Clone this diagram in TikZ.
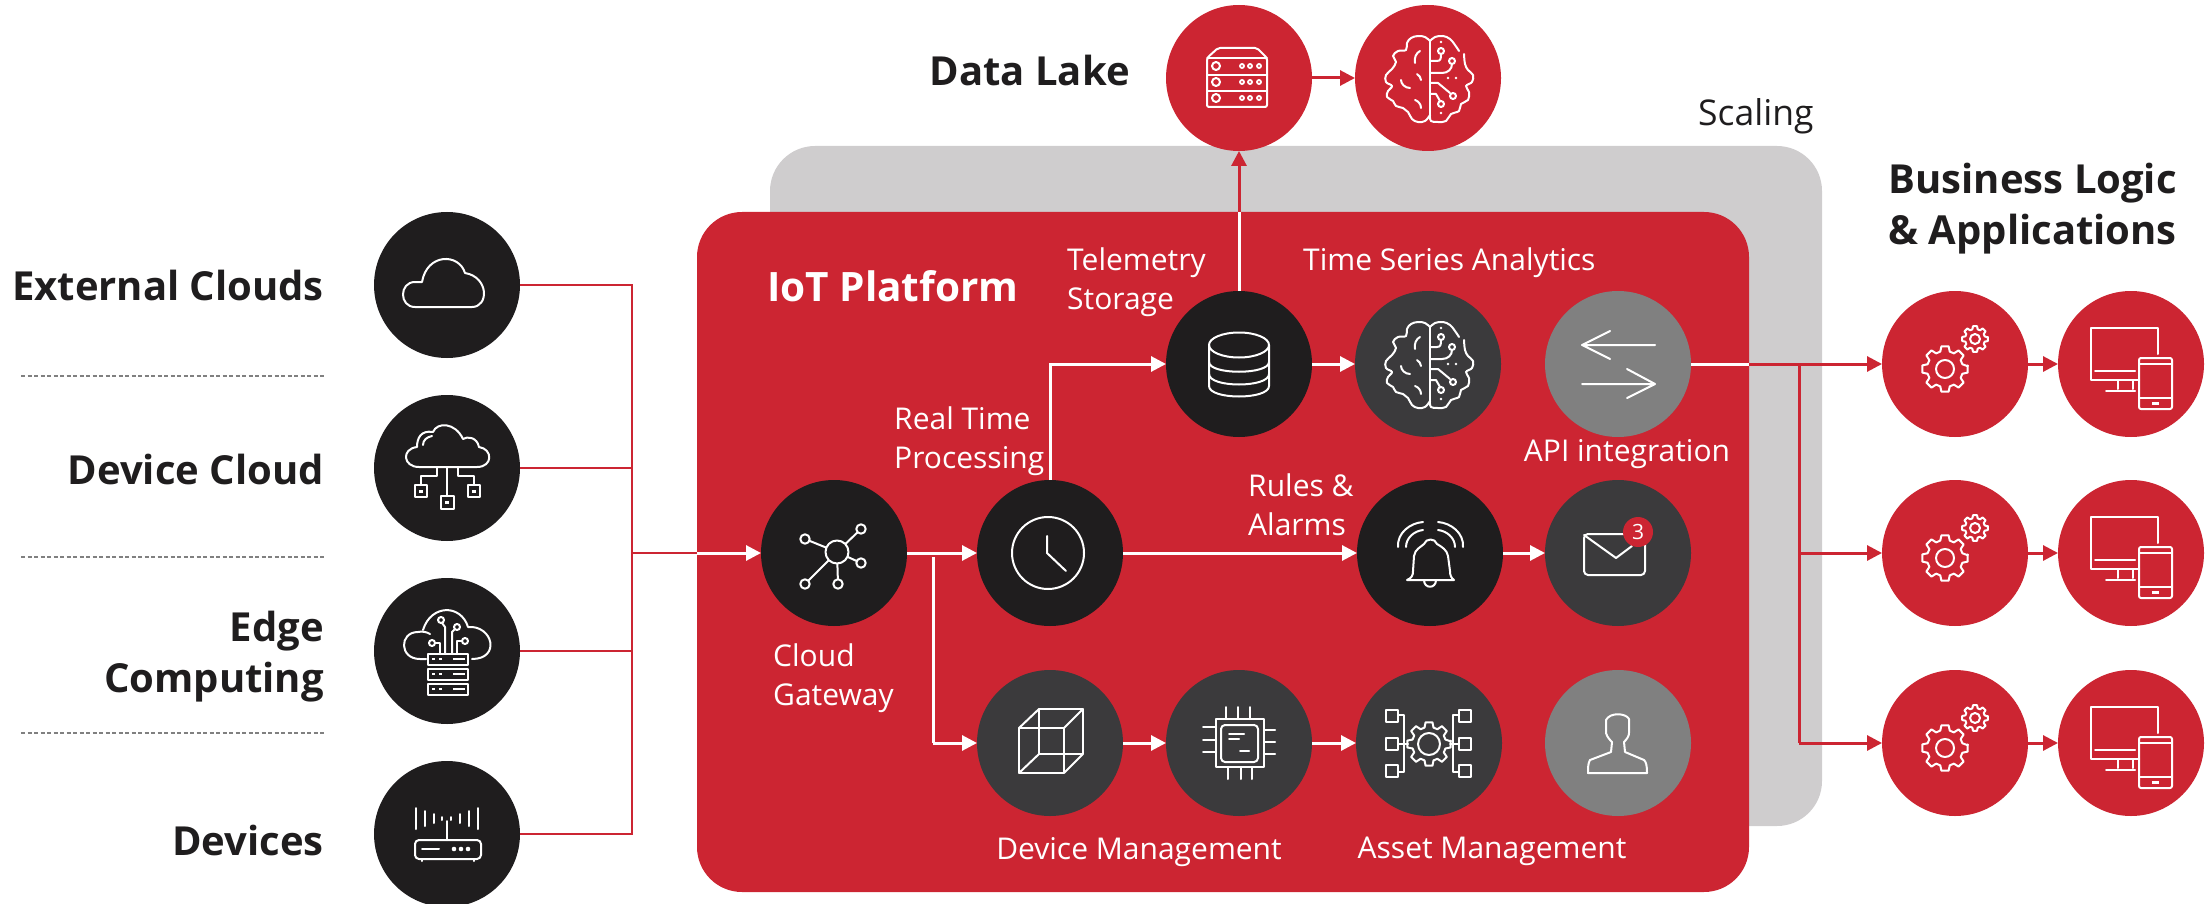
\documentclass[tikz,border=0pt]{standalone}
\usepackage{fontspec}
\setmainfont{Open Sans}
\usetikzlibrary{arrows.meta}
\definecolor{brand}{RGB}{204,37,50}
\definecolor{ink}{RGB}{31,29,30}
\definecolor{slate}{RGB}{59,58,60}
\definecolor{midgrey}{RGB}{128,128,128}
\definecolor{pale}{RGB}{207,205,206}
\newcommand{\gearic}[6]{% x y R r hole teethcount-step
  \begin{scope}[shift={(#1,#2)}]
  \draw[ic] (#6/2*-0.3:#3)
    \foreach \a in {0,#6,...,359}{ -- ({\a-#6*0.2}:#3) -- ({\a+#6*0.2}:#3) -- ({\a+#6*0.34}:#4) -- ({\a+#6*0.66}:#4)} -- cycle;
  \draw[ic] (0,0) circle[radius=#5];
  \end{scope}}
\newcommand{\cloudinbox}[3]{\draw[ic] (#1-#3,#2-#3) rectangle (#1+#3,#2+#3); \fill[white] (#1-2,#2-1.5) rectangle (#1+2,#2+1.5);}
\tikzset{
  ic/.style={draw=white,line width=2pt,line join=round,line cap=round},
  disc/.style={circle,minimum size=146pt,inner sep=0pt,outer sep=0pt},
  blackdisc/.style={disc,fill=ink},
  slatedisc/.style={disc,fill=slate},
  greydisc/.style={disc,fill=midgrey},
  reddisc/.style={disc,fill=brand},
  feed/.style={draw=brand,line width=1.6pt},
  wline/.style={draw=white,line width=3pt},
  rline/.style={draw=brand,line width=3pt},
  warrow/.style={wline,-{Triangle[length=15pt,width=15pt]}},
  rarrow/.style={rline,-{Triangle[length=15pt,width=15pt]}},
  sidelabel/.style={font=\fontsize{40}{51}\selectfont\bfseries,text=ink,inner sep=0pt,align=right,anchor=east},
  title/.style={font=\fontsize{40.5}{51}\selectfont\bfseries,inner sep=0pt},
  inlabel/.style={font=\fontsize{30}{39}\selectfont,text=white,inner sep=0pt,align=left},
  extcloud/.pic={
    \draw[ic] (-32,22) -- (25,22) .. controls (42,22) and (42,-8) .. (18,-12) .. controls (12,-32) and (-20,-32) .. (-25,-3) -- (-32,-3) .. controls (-48,-3) and (-48,22) .. (-32,22) -- cycle;
  },
  devcloud/.pic={
    \draw[ic] (-28,-1) -- (30,-1) .. controls (46,-1) and (46,-19) .. (32,-21) .. controls (30,-31) and (20,-32) .. (16,-29) .. controls (8,-46) and (-10,-46) .. (-14,-36) .. controls (-26,-38) and (-30,-30) .. (-30,-21) .. controls (-46,-19) and (-44,-1) .. (-28,-1) -- cycle;
    \draw[ic] (-24,-23) .. controls (-24,-28) and (-20,-31) .. (-15,-32);
    \draw[ic] (0,-1) -- (0,28);
    \draw[ic] (-10,-1) -- (-10,8) -- (-26,8) -- (-26,17);
    \draw[ic] (11,-1) -- (11,8) -- (27,8) -- (27,17);
    \cloudinbox{0}{34}{6.5}\cloudinbox{-26}{23}{6}\cloudinbox{27}{23}{6}
  },
  edgecloud/.pic={
    \draw[ic] (-21,8) -- (-27,8) .. controls (-48,8) and (-48,-19) .. (-29,-19) .. controls (-25,-20) and (-20,-19) .. (-17,-17);
    \draw[ic] (-24,-21) .. controls (-16,-47) and (14,-47) .. (21,-24) .. controls (46,-26) and (54,8) .. (25,8);
    \foreach \y in {3,18,33}{
      \draw[ic] (-19,\y) rectangle (21,\y+11);
      \draw[white,line width=2pt] (-15,\y+5) -- (-12,\y+5) (-8,\y+5) -- (-5,\y+5) (6,\y+5) -- (18,\y+5);
    }
    \draw[ic] (-2,3) -- (-2,-24) -- (-5,-28);
    \draw[ic] (-6,-31) circle[radius=3];
    \draw[ic] (5,3) -- (5,-19) -- (8,-22);
    \draw[ic] (10,-24) circle[radius=3];
    \draw[ic] (10,3) -- (10,-10) -- (15,-10);
    \draw[ic] (18,-10) circle[radius=3];
    \draw[ic] (-7,3) -- (-7,-8) -- (-12,-8);
    \draw[ic] (-15,-8) circle[radius=3];
  },
  routeric/.pic={
    \foreach \x/\h in {-31/0,-22/3,-13/6,-5/9,4/9,13/6,22/3,31/0}{
      \draw[ic] (\x,-26+\h) -- (\x,-5-\h);
    }
    \draw[ic] (0,-13) -- (0,6);
    \draw[ic,rounded corners=4pt] (-32,6) rectangle (34,25);
    \draw[ic] (-25,15) -- (-8,15);
    \foreach \x in {7,14,21}{\fill[white] (\x,15) circle[radius=2.3];}
    \draw[ic] (-25,25) -- (-25,27) (27,25) -- (27,27);
  },
  serveric/.pic={
    \draw[ic,rounded corners=2pt] (-32,-20) -- (-21,-30) -- (18,-30) -- (28,-20) -- (28,29) -- (-32,29) -- cycle;
    \draw[ic] (-32,-20) -- (28,-20) (-32,-3) -- (28,-3) (-32,13) -- (28,13);
    \foreach \y in {-12,4,20}{
      \draw[ic] (-23,\y) circle[radius=4];
      \foreach \x in {3,11,20}{\draw[white,line width=1.8pt] (\x,\y) circle[radius=2];}
    }
  },
  brainic/.pic={
    \draw[ic] plot[smooth,tension=.65] coordinates {(2,-37) (-3,-41) (-10,-42) (-17,-40) (-21,-35) (-22,-28) (-30,-27) (-35,-22) (-32,-16) (-36,-9) (-42,-3) (-42,4) (-36,8) (-40,13) (-41,19) (-35,23) (-32,28) (-25,30) (-20,34) (-16,41) (-10,44) (-3,43) (2,37)};
    \draw[ic] plot[smooth,tension=.65] coordinates {(2,-37) (7,-41) (15,-42) (22,-39) (27,-33)  (31,-27) };
    \draw[ic] plot[smooth,tension=.65] coordinates {(36,-24) (37,-14) (40,-8) (45,-3) (44,4) (38,8) (41,14) (40,22) (33,26) (31,33) (23,36) (18,43) (10,44) (3,43) (2,37)};
    \draw[ic] (2,-37) -- (2,37);
    \draw[ic] (2,-17) -- (9,-17) .. controls (13,-17) and (13,-20) .. (13,-24);
    \draw[ic] (13,-27) circle[radius=3];
    \draw[ic] (2,-5) -- (14,-5) .. controls (20,-5) and (24,-9) .. (24,-14);
    \draw[ic] (24,-17) circle[radius=3];
    \draw[ic] (2,5) -- (10,5) -- (22,15);
    \draw[ic] (25,18) circle[radius=3];
    \draw[ic] (2,16) -- (8,16) -- (12,23);
    \draw[ic] (13,26) circle[radius=3];
    \foreach \p in {(20,0),(28,0),(13,-36),(13,35)}{\fill[white] \p circle[radius=1.3];}
    \draw[ic] (-8,-27) .. controls (-12,-25) and (-14,-20) .. (-13,-15);
    \draw[ic] (-11,-4) .. controls (-9,-3) and (-7,0) .. (-7,2);
    \draw[ic] (-27,2) .. controls (-27,6) and (-23,10) .. (-18,10);
    \draw[ic] (-13,22) .. controls (-10,23) and (-7,26) .. (-7,30);
  },
  dbic/.pic={
    \draw[ic] (0,-19) ellipse[x radius=30,y radius=12.5];
    \draw[ic] (-30,-19) -- (-30,22) .. controls (-30,36) and (30,36) .. (30,22) -- (30,-19);
    \draw[ic] (-30,-2) .. controls (-30,11) and (30,11) .. (30,-2);
    \draw[ic] (-30,10) .. controls (-30,24) and (30,24) .. (30,10);
  },
  gateic/.pic={
    \draw[white,line width=2pt] (3,-1) -- (-29,-14) (3,-1) -- (27,-24) (3,-1) -- (27,10) (3,-1) -- (-29,31) (3,-1) -- (4,31);
    \foreach \p/\r in {(3,-1)/11.5,(-29,-14)/4.7,(27,-24)/4.7,(27,10)/4.7,(-29,31)/4.7,(4,31)/4.7}{
      \draw[ic,fill=ink] \p circle[radius=\r];
    }
  },
  clockic/.pic={
    \draw[ic] (-2,0) circle[radius=36];
    \draw[ic] (-3,-17) -- (-3,0) -- (16,18);
  },
  cubeic/.pic={
    \draw[ic] (-31,-15) rectangle (14,30);
    \draw[ic] (-11,-34) rectangle (33,11);
    \draw[ic] (-31,-15) -- (-11,-34) (14,-15) -- (33,-34) (14,30) -- (33,11) (-31,30) -- (-11,11);
  },
  apiic/.pic={
    \draw[ic] (37,-19) -- (-36,-19) (-8,-33) -- (-36,-19) -- (-8,-5);
    \draw[ic] (-36,20) -- (37,20) (9,5) -- (37,20) -- (9,34);
  },
  gearsic/.pic={
    \gearic{-10}{5}{23}{18}{9}{45}
    \gearic{20}{-25}{13}{10}{5}{45}
  },
  screenic/.pic={
    \draw[ic] (27,-10) -- (27,-36) -- (-40,-36) -- (-40,16) -- (8,16);
    \draw[ic] (-36,7) -- (4,7);
    \draw[ic] (-13,16) -- (-13,25) (2,16) -- (2,25) (-25,27) -- (4,27);
    \draw[ic,rounded corners=2pt] (8,-6) rectangle (41,45);
    \draw[ic] (8,0) -- (41,0) (8,34) -- (41,34);
    \fill[white] (21,38) rectangle (28,40.5);
  },
  bellic/.pic={
    \draw[ic] (-23,27) -- (24,27) (-23,27) .. controls (-18,25) and (-17,22) .. (-17,18) -- (-16,3) .. controls (-15,-4) and (-9,-6) .. (-6,-9) .. controls (-4,-15) and (5,-15) .. (7,-9) .. controls (12,-6) and (17,-3) .. (18,3) -- (20,18) .. controls (20,22) and (21,25) .. (24,27);
    \draw[ic] (-6,27) .. controls (-6,36) and (6,36) .. (6,27);
    \draw[ic] (-32,-6) .. controls (-33,-20) and (-20,-30) .. (-7,-31);
    \draw[ic] (-24,-6) .. controls (-24,-15) and (-16,-22) .. (-7,-23);
    \draw[ic] (8,-31) .. controls (21,-30) and (34,-20) .. (33,-6);
    \draw[ic] (8,-23) .. controls (17,-22) and (25,-15) .. (25,-6);
  },
  chipic/.pic={
    \draw[ic] (-23,-24) rectangle (25,24);
    \draw[ic,rounded corners=4pt] (-18,-18) rectangle (19,19);
    \foreach \x in {-13,-1,11}{\draw[ic] (\x,-36) -- (\x,-24);}
    \foreach \x in {-11,2,13}{\draw[ic] (\x,24) -- (\x,36);}
    \foreach \y in {-16,-3,9}{\draw[ic] (-36,\y) -- (-23,\y);}
    \foreach \y in {-13,-1,11}{\draw[ic] (25,\y) -- (36,\y);}
    \draw[ic] (-10,-9) -- (5,-9) (-10,-4) -- (0,-4) (1,8) -- (10,8);
  },
  assetic/.pic={
    \gearic{0}{1}{22}{17}{11}{45}
    \foreach \y in {-33,-5,22}{
      \draw[ic] (-43,\y) rectangle (-31,\y+11.5);
      \draw[ic] (30,\y) rectangle (42,\y+11.5);
    }
    \draw[ic] (-31,-28) -- (-25,-28) -- (-25,29) -- (-31,29) (-31,1) -- (-21,1);
    \draw[ic] (30,-28) -- (24,-28) -- (24,29) -- (30,29) (30,1) -- (21,1);
  },
  useric/.pic={
    \draw[ic] (-30,30) -- (29,30) .. controls (29,22) and (28,19) .. (26,17) -- (7,9) -- (6,-1) .. controls (9,-4) and (11,-7) .. (11,-10) -- (11,-24) .. controls (8,-30) and (-8,-31) .. (-12,-23) -- (-12,-10) .. controls (-11,-6) and (-8,-3) .. (-6,-1) -- (-7,9) -- (-28,17) .. controls (-30,20) and (-30,25) .. (-30,30) -- cycle;
  },
  mailic/.pic={
    \draw[ic,rounded corners=4pt] (-34,-19) rectangle (27,22);
    \draw[ic] (-34,-18) -- (-2,5) -- (14,-7);
  },
}
\begin{document}
\begin{tikzpicture}[x=1pt,y=-1pt]
\useasboundingbox (0,0) rectangle (2211,904);
% panels
\node[fill=pale,rounded corners=45pt,minimum width=1052pt,minimum height=680pt,inner sep=0pt,outer sep=0pt] (scalebg) at (1296,486) {};
\node[fill=brand,rounded corners=45pt,minimum width=1052pt,minimum height=680pt,inner sep=0pt,outer sep=0pt] (platform) at (1223,552) {};
% discs
\node[blackdisc] (ext) at (447,285) {};
\node[blackdisc] (dev) at (447,468) {};
\node[blackdisc] (edge) at (447,651) {};
\node[blackdisc] (rout) at (447,834) {};
\node[reddisc] (lake) at (1239,78) {};
\node[reddisc] (lakebrain) at (1428,78) {};
\node[blackdisc] (gw) at (834,553) {};
\node[blackdisc] (clock) at (1050,553) {};
\node[blackdisc] (db) at (1239,364) {};
\node[slatedisc] (ts) at (1428,364) {};
\node[greydisc] (api) at (1618,364) {};
\node[blackdisc] (bell) at (1430,553) {};
\node[slatedisc] (mail) at (1618,553) {};
\node[slatedisc] (cube) at (1050,743) {};
\node[slatedisc] (chip) at (1239,743) {};
\node[slatedisc] (asset) at (1429,743) {};
\node[greydisc] (usr) at (1618,743) {};
\node[reddisc] (ga) at (1955,364) {};
\node[reddisc] (sa) at (2131,364) {};
\node[reddisc] (gb) at (1955,553) {};
\node[reddisc] (sb) at (2131,553) {};
\node[reddisc] (gc) at (1955,743) {};
\node[reddisc] (sc) at (2131,743) {};
% icons
\pic at (ext) {extcloud};
\pic at (dev) {devcloud};
\pic at (edge) {edgecloud};
\pic at (rout) {routeric};
\pic at (lake) {serveric};
\pic at (lakebrain) {brainic};
\pic at (gw) {gateic};
\pic at (clock) {clockic};
\pic at (db) {dbic};
\pic at (ts) {brainic};
\pic at (api) {apiic};
\pic at (bell) {bellic};
\pic at (mail) {mailic};
\pic at (cube) {cubeic};
\pic at (chip) {chipic};
\pic at (asset) {assetic};
\pic at (usr) {useric};
\foreach \g/\s in {ga/sa,gb/sb,gc/sc}{
  \pic at (\g) {gearsic};
  \pic at (\s) {screenic};
}
\node[circle,fill=brand,minimum size=30pt,inner sep=0pt,text=white,font=\fontsize{21}{21}\selectfont] (badge) at (1638,532) {3};
% separators
\coordinate (sepa1) at (21,376); \coordinate (sepa2) at (324,376);
\coordinate (sepb1) at (21,557); \coordinate (sepb2) at (324,557);
\coordinate (sepc1) at (21,733); \coordinate (sepc2) at (324,733);
\draw[midgrey,dashed,dash pattern=on 4pt off 2.5pt,line width=1.2pt] (sepa1) -- (sepa2);
\draw[midgrey,dashed,dash pattern=on 4pt off 2.5pt,line width=1.2pt] (sepb1) -- (sepb2);
\draw[midgrey,dashed,dash pattern=on 4pt off 2.5pt,line width=1.2pt] (sepc1) -- (sepc2);
% feeder bus
\coordinate (bustop) at (632,285);
\coordinate (busmid) at (632,553);
\coordinate (busbot) at (632,834);
\draw[feed] (ext.east) -- (bustop) -- (busbot) -- (rout.east);
\draw[feed] (dev.east) -- (bustop |- dev.east);
\draw[feed] (edge.east) -- (bustop |- edge.east);
\coordinate (gwin) at (platform.west |- gw.west);
\draw[feed] (busmid) -- (gwin);
\draw[warrow] (gwin) -- (gw.west);
% platform flows
\coordinate (clockup) at (clock.north |- db.west);
\draw[warrow] (gw.east) -- (clock.west);
\draw[warrow] (clock.north) -- (clockup) -- (db.west);
\coordinate (branchtop) at (933,557);
\draw[wline] (branchtop) -- (branchtop |- cube.west);
\draw[warrow] (branchtop |- cube.west) -- (cube.west);
\draw[warrow] (clock.east) -- (bell.west);
\draw[warrow] (db.east) -- (ts.west);
\draw[warrow] (bell.east) -- (mail.west);
\draw[warrow] (cube.east) -- (chip.west);
\draw[warrow] (chip.east) -- (asset.west);
% data lake
\coordinate (dbout) at (db.north |- platform.north);
\draw[wline] (db.north) -- (dbout);
\draw[rarrow] (dbout) -- (lake.south);
\draw[rarrow] (lake.east) -- (lakebrain.west);
% applications
\coordinate (apiout) at (platform.east |- api.east);
\coordinate (apibranch) at (1799,364);
\draw[wline] (api.east) -- (apiout);
\draw[rarrow] (apiout) -- (ga.west);
\draw[rline] (apibranch) -- (apibranch |- gc.west);
\draw[rarrow] (apibranch |- gb.west) -- (gb.west);
\draw[rarrow] (apibranch |- gc.west) -- (gc.west);
\draw[rarrow] (ga.east) -- (sa.west);
\draw[rarrow] (gb.east) -- (sb.west);
\draw[rarrow] (gc.east) -- (sc.west);
% labels
\node[sidelabel] (lext) at (324,285.5) {External Clouds};
\node[sidelabel] (ldev) at (324,469) {Device Cloud};
\node[sidelabel] (ledge) at (324,657) {Edge\\Computing};
\node[sidelabel] (lrout) at (324,840) {Devices};
\node[sidelabel] (llake) at (1130,71) {Data Lake};
\node[sidelabel] (lbiz) at (2177,209) {Business Logic\\\& Applications};
\node[title,text=white,anchor=west] (liot) at (767,286) {IoT Platform};
\node[inlabel,text=ink,anchor=west,font=\fontsize{35.5}{39}\selectfont] (lscale) at (1698,116) {Scaling};
\node[inlabel,anchor=west] (ltel) at (1067,282) {Telemetry\\Storage};
\node[inlabel,anchor=west] (ltime) at (1303,263) {Time Series Analytics};
\node[inlabel,anchor=west] (lreal) at (894,441) {Real Time\\Processing};
\node[inlabel] (lapi) at (1627,454) {API integration};
\node[inlabel,anchor=west] (lrules) at (1248,505) {Rules \&\\Alarms};
\node[inlabel,anchor=west] (lcloud) at (773,678) {Cloud\\Gateway};
\node[inlabel] (lmgmt) at (1139,852) {Device Management};
\node[inlabel] (lasset) at (1492,851) {Asset Management};
\end{tikzpicture}
\end{document}
